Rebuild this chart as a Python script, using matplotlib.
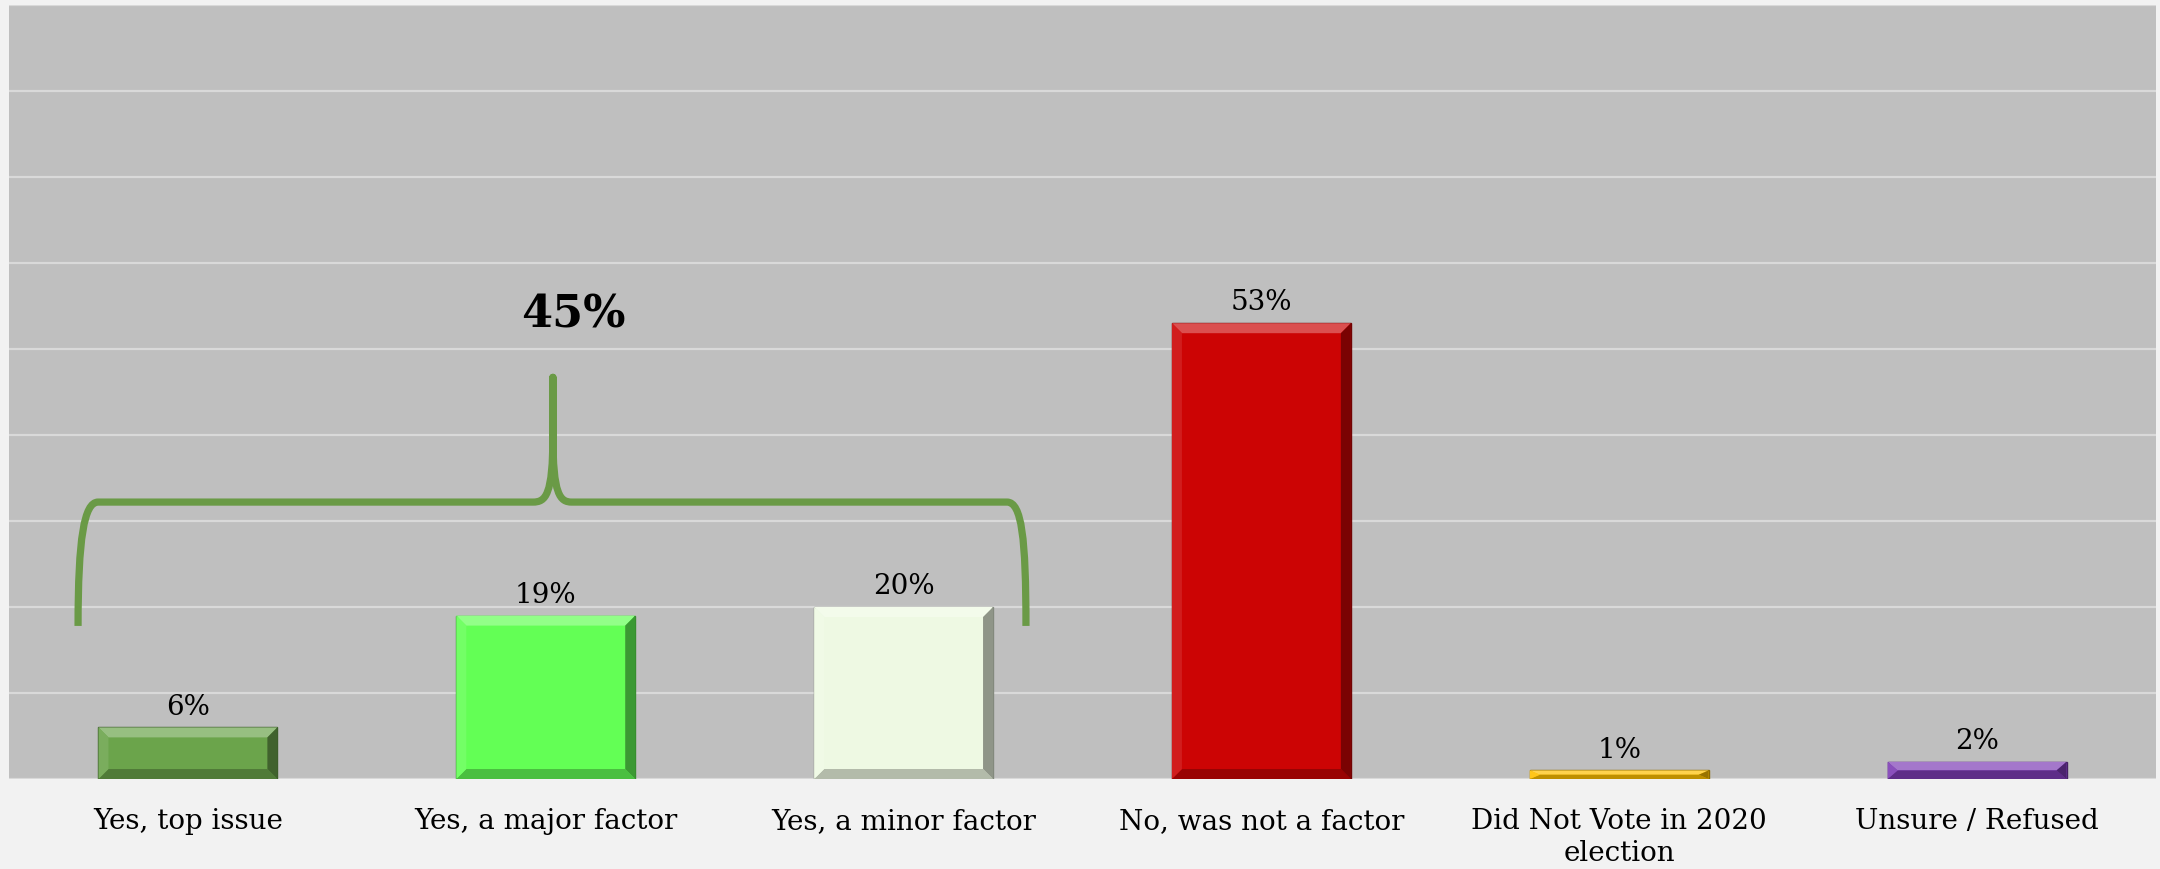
"""
Bar chart: was the issue a factor in the 2020 vote
"""
import matplotlib
matplotlib.use('Agg')
import matplotlib.pyplot as plt
import matplotlib.colors as mcolors
from matplotlib.path import Path
from matplotlib.patches import PathPatch, Polygon
import numpy as np

categories = ['Yes, top issue', 'Yes, a major factor', 'Yes, a minor factor',
              'No, was not a factor', 'Did Not Vote in 2020\nelection', 'Unsure / Refused']
values = [6, 19, 20, 53, 1, 2]
bar_colors = ['#6BA44B', '#63FF55', '#EEF9E3', '#CC0404', '#FFC000', '#7D3CB5']
group_idx = [0, 1, 2]  # the "yes" answers grouped by the brace

plt.rcParams['font.family'] = ['DejaVu Serif']

W, H = 2160, 870
fig = plt.figure(figsize=(W / 100, H / 100), dpi=100, facecolor='#F2F2F2')
ax_l, ax_b, ax_w, ax_h = 9, 90, 2147, 774
ax = fig.add_axes([ax_l / W, ax_b / H, ax_w / W, ax_h / H])
ax.set_facecolor('#BFBFBF')

x = np.arange(len(categories))
y = np.array(values) / 100
ax.set_xlim(-0.5, len(categories) - 0.5)
ax.set_ylim(0, 0.9)


def blend(c, other, t):
    c = np.array(mcolors.to_rgb(c))
    o = np.array(mcolors.to_rgb(other))
    return tuple(c * (1 - t) + o * t)


edge_cols = [blend(c, 'black', 0.45) for c in bar_colors]
bars = ax.bar(x, y, width=0.5, color=bar_colors, edgecolor=edge_cols,
              linewidth=1, zorder=3)

# bevel look on each bar
px_x = ax_w / (len(categories))      # pixels per x unit
px_y = ax_h / 0.9                    # pixels per y unit
for bar, col in zip(bars, bar_colors):
    x0, x1 = bar.get_x(), bar.get_x() + bar.get_width()
    y0, y1 = 0, bar.get_height()
    bx = 10 / px_x
    by = min(10 / px_y, (y1 - y0) / 2)
    faces = [
        ([(x0, y1), (x1, y1), (x1 - bx, y1 - by), (x0 + bx, y1 - by)], blend(col, 'white', 0.3)),
        ([(x0, y0), (x1, y0), (x1 - bx, y0 + by), (x0 + bx, y0 + by)], blend(col, 'black', 0.25)),
        ([(x1, y0), (x1, y1), (x1 - bx, y1 - by), (x1 - bx, y0 + by)], blend(col, 'black', 0.4)),
        ([(x0, y0), (x0, y1), (x0 + bx, y1 - by), (x0 + bx, y0 + by)], blend(col, 'white', 0.1)),
    ]
    for pts, fc in faces:
        ax.add_patch(Polygon(pts, closed=True, facecolor=fc, edgecolor='none', zorder=3.5))

ax.set_yticks(np.arange(0, 0.91, 0.1))
ax.yaxis.grid(True, color='#D9D9D9', linewidth=1.6)
ax.set_axisbelow(True)
ax.set_xticks(x, categories)
ax.tick_params(left=False, labelleft=False, bottom=False, pad=17, labelsize=20)
for s in ax.spines.values():
    s.set_visible(False)
ax.axhline(0, color='#D9D9D9', linewidth=2, zorder=2)

# value labels
for xi, v in zip(x, values):
    ax.annotate(f'{v}%', (xi, v / 100), xytext=(0, 10), textcoords='offset points',
                ha='center', va='baseline', fontsize=20, zorder=5)

# curly brace over the "yes" group
xl = group_idx[0] - 0.307
xr = group_idx[-1] + 0.342
xm = (group_idx[0] + group_idx[-1]) / 2 + 0.02
yb, yh, yt = 0.178, 0.322, 0.467
verts = [
    (xl, yb),
    (xl, 0.28), (xl + 0.017, yh), (xl + 0.056, yh),
    (xm - 0.056, yh),
    (xm - 0.02, yh), (xm, 0.33), (xm, 0.40),
    (xm, yt),
    (xm, 0.40),
    (xm, 0.33), (xm + 0.02, yh), (xm + 0.053, yh),
    (xr - 0.053, yh),
    (xr - 0.012, yh), (xr, 0.28), (xr, yb),
]
codes = [Path.MOVETO,
         Path.CURVE4, Path.CURVE4, Path.CURVE4,
         Path.LINETO,
         Path.CURVE4, Path.CURVE4, Path.CURVE4,
         Path.LINETO,
         Path.LINETO,
         Path.CURVE4, Path.CURVE4, Path.CURVE4,
         Path.LINETO,
         Path.CURVE4, Path.CURVE4, Path.CURVE4]
brace = PathPatch(Path(verts, codes), facecolor='none', edgecolor='#6A9A46',
                  linewidth=5.2, capstyle='butt', joinstyle='round', zorder=4)
ax.add_patch(brace)

group_total = sum(values[i] for i in group_idx)
ax.text(xm + 0.056, 0.526, f'{group_total}%', ha='center', va='baseline',
        fontsize=32, fontweight='bold', zorder=5)

plt.savefig('out.png', dpi=100, facecolor=fig.get_facecolor())
plt.close()
